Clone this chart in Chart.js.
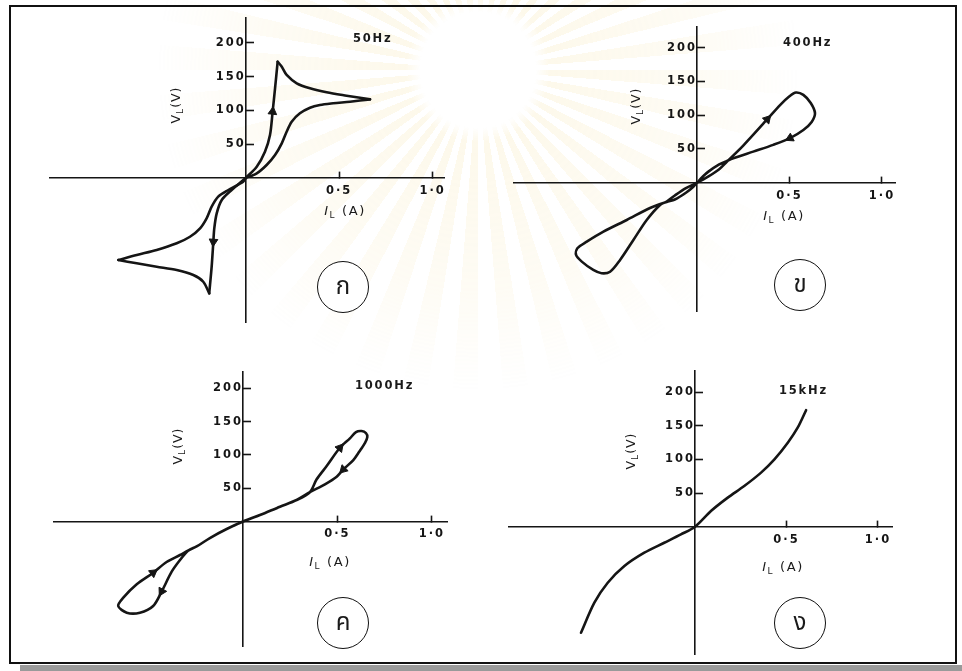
<!DOCTYPE html>
<html><head><meta charset="utf-8">
<script src="https://cdn.jsdelivr.net/npm/chart.js@4.4.1/dist/chart.umd.min.js"></script>
<style>
html,body{margin:0;padding:0;background:#fff;}
#page{position:relative;width:962px;height:671px;overflow:hidden;background:#fff;font-family:"DejaVu Sans",sans-serif;color:#1a1a1a;}
.wm{position:absolute;left:0;top:0;width:962px;height:671px;
  background:repeating-conic-gradient(from 0deg at 478px 70px, rgba(245,222,150,0.5) 0deg 4.5deg, rgba(255,255,255,0) 4.5deg 9deg);
  -webkit-mask-image:radial-gradient(circle at 478px 70px, transparent 0 58px, rgba(0,0,0,0.38) 72px, rgba(0,0,0,0.2) 220px, transparent 320px);
  mask-image:radial-gradient(circle at 478px 70px, transparent 0 58px, rgba(0,0,0,0.38) 72px, rgba(0,0,0,0.2) 220px, transparent 320px);}
canvas{position:absolute;}
.frame{position:absolute;left:9px;top:5px;width:944px;height:655px;border:2px solid #111;}
.shadow{position:absolute;left:20px;top:665px;width:942px;height:6px;background:#9a9a9a;}
.freq{position:absolute;font-weight:bold;font-size:11.5px;letter-spacing:1.8px;white-space:nowrap;}
.ylab{position:absolute;font-size:12.5px;letter-spacing:1px;white-space:nowrap;transform:translate(-50%,-50%) rotate(-90deg);}
.xlab{position:absolute;font-size:13px;letter-spacing:1.6px;white-space:nowrap;transform:translate(-50%,-50%);}
.ylab sub,.xlab sub{font-size:9px;vertical-align:-3px;}
.circ{position:absolute;width:50px;height:50px;border:1.6px solid #111;border-radius:50%;transform:translate(-50%,-50%);display:flex;align-items:center;justify-content:center;font-size:24px;font-family:"Noto Sans Thai","Loma","Garuda","Norasi","Tlwg Typo","Noto Sans",sans-serif;background:#fff;}
</style></head>
<body>
<div id="page">
  <div class="wm"></div>
  <div class="frame"></div>
  <div class="shadow"></div>
  <canvas id="c1"></canvas>
  <canvas id="c2"></canvas>
  <canvas id="c3"></canvas>
  <canvas id="c4"></canvas>
  <div class="freq" style="left:353px;top:31px">50Hz</div>
  <div class="freq" style="left:783px;top:35px">400Hz</div>
  <div class="freq" style="left:355px;top:378px">1000Hz</div>
  <div class="freq" style="left:779px;top:383px">15kHz</div>
  <div class="ylab" style="left:176px;top:105px"><span>V<sub>L</sub>(V)</span></div>
  <div class="ylab" style="left:636px;top:106px"><span>V<sub>L</sub>(V)</span></div>
  <div class="ylab" style="left:178px;top:446px"><span>V<sub>L</sub>(V)</span></div>
  <div class="ylab" style="left:631px;top:451px"><span>V<sub>L</sub>(V)</span></div>
  <div class="xlab" style="left:345px;top:211px"><i>I</i><sub>L</sub> (A)</div>
  <div class="xlab" style="left:784px;top:216px"><i>I</i><sub>L</sub> (A)</div>
  <div class="xlab" style="left:330px;top:562px"><i>I</i><sub>L</sub> (A)</div>
  <div class="xlab" style="left:783px;top:567px"><i>I</i><sub>L</sub> (A)</div>
  <div class="circ" style="left:343px;top:287px">ก</div>
  <div class="circ" style="left:800px;top:285px">ข</div>
  <div class="circ" style="left:343px;top:623px">ค</div>
  <div class="circ" style="left:800px;top:623px">ง</div>
</div>
<script>
// ---------- tick values / labels ----------
const xTickValues = [0.5, 1.0];
const xTickLabels = ['0·5', '1·0'];
const yTickValues = [50, 100, 150, 200];

// ---------- 50 Hz  (I_L in A, V_L in V) ----------
const hz50Rise   = [[0,0],[0.059,16.7],[0.103,38.9],[0.130,63.6],[0.144,98],[0.157,132.6],[0.171,171.9]];
const hz50Top    = [[0.171,171.9],[0.193,164.5],[0.219,152.3],[0.273,140],[0.344,132.6],[0.433,126.7],[0.540,121.7],[0.665,116.3]];
const hz50Back   = [[0.665,116.3],[0.558,112.8],[0.468,110.4],[0.397,107.9],[0.344,103.9],[0.290,95.6],[0.246,83.2],[0.219,68.4],[0.193,51.3],[0.157,34],[0.112,19.2],[0.059,6.9],[0,0]];
const hz50Fall   = [[0,0],[-0.075,-17.7],[-0.128,-32.5],[-0.155,-52.2],[-0.168,-74.4],[-0.173,-94.2],[-0.182,-131.1],[-0.195,-170.4]];
const hz50Bottom = [[-0.195,-170.4],[-0.227,-153.3],[-0.280,-143.4],[-0.369,-136],[-0.476,-131.1],[-0.583,-126.1],[-0.681,-121.2]];
const hz50Return = [[-0.681,-121.2],[-0.583,-113.8],[-0.476,-106.4],[-0.369,-96.5],[-0.298,-86.8],[-0.244,-74.4],[-0.209,-59.6],[-0.182,-42.4],[-0.147,-27.6],[-0.093,-17.7],[-0.013,-5.5],[0,0]];
const hz50Arrows = [[0.144,98],[-0.173,-94.2]];

// ---------- 400 Hz ----------
const hz400Loop = [[0,0],[0.06,9],[0.12,20],[0.161,31],[0.25,55],[0.38,94],[0.449,115],[0.50,128],[0.535,133.5],[0.575,130],[0.615,118],[0.638,103],[0.62,90],[0.575,78],[0.503,66],[0.412,56],[0.304,46],[0.196,36],[0.161,32],[0.12,27],[0.06,16],[0.02,6],[0,0],
  [-0.06,-8],[-0.12,-19],[-0.164,-28],[-0.2,-33],[-0.272,-55.3],[-0.344,-84.9],[-0.416,-114.5],[-0.47,-131.9],[-0.516,-134.2],[-0.561,-129.3],[-0.623,-117],[-0.654,-107.1],[-0.647,-97.2],[-0.596,-87.4],[-0.506,-72.6],[-0.38,-55.3],[-0.254,-37.5],[-0.164,-28.5],[-0.12,-25],[-0.06,-15],[-0.02,-6],[0,0]];
const hz400Arrows = [[0.38,94],[0.503,66]];

// ---------- 1000 Hz ----------
const hz1000Loop = [[0,0],[0.09,9.7],[0.196,22.2],[0.284,32.2],[0.354,43.9],[0.39,63.3],[0.443,83.2],[0.513,110.6],[0.566,124.7],[0.598,134.2],[0.628,135.7],[0.651,132.7],[0.658,126.7],[0.646,118.1],[0.615,104.6],[0.584,92.2],[0.531,78],[0.496,67.2],[0.434,55.8],[0.354,43.9],[0.284,32.2],[0.196,22.2],[0.09,9.7],[0,0],
  [-0.086,-11.3],[-0.175,-24.8],[-0.245,-37.5],[-0.289,-43.5],[-0.333,-57.8],[-0.377,-75.3],[-0.43,-105],[-0.475,-126.8],[-0.545,-136.8],[-0.615,-136.8],[-0.66,-126.8],[-0.633,-114.3],[-0.562,-94.2],[-0.475,-76.8],[-0.404,-60.8],[-0.333,-50.3],[-0.289,-43.5],[-0.245,-37.5],[-0.175,-24.8],[-0.086,-11.3],[0,0]];
const hz1000Arrows = [[0.513,110.6],[0.531,78],[-0.475,-76.8],[-0.43,-105]];

// ---------- 15 kHz ----------
const khz15Curve = [[-0.623,-157.4],[-0.55,-112.8],[-0.477,-83.2],[-0.386,-58.4],[-0.277,-38.6],[-0.168,-23.8],[-0.077,-11.4],[0,0],[0.087,23.3],[0.179,43.2],[0.269,60.4],[0.361,80.3],[0.434,100],[0.507,124.7],[0.561,147],[0.607,173]];

// ---------- drawing ----------
const INK = '#151515';
const pts = a => a.map(p => ({x: p[0], y: p[1]}));

const spacing = {
  id: 'spacing',
  beforeDraw(chart) { chart.ctx.letterSpacing = '2px'; }
};
const noPad = s => { s.paddingTop = 0; s.paddingBottom = 0; s.paddingLeft = 0; s.paddingRight = 0; };

function arrowRotation(paths) {
  return ctx => {
    const ch = ctx.chart, sx = ch.scales && ch.scales.x, sy = ch.scales && ch.scales.y;
    const r = ctx.raw;
    if (!r || !sx || !sy) return 0;
    const ax = sx.getPixelForValue(r.x), ay = sy.getPixelForValue(r.y);
    if (!isFinite(ax) || !isFinite(ay)) return 0;
    let best = null, bd = Infinity;
    paths.forEach(p => p.forEach((q, i) => {
      const d = Math.hypot(sx.getPixelForValue(q[0]) - ax, sy.getPixelForValue(q[1]) - ay);
      if (d < bd) { bd = d; best = {p, i}; }
    }));
    if (!best) return 0;
    const p = best.p, i = best.i;
    const a = p[Math.max(i - 1, 0)], b = p[Math.min(i + 1, p.length - 1)];
    const dx = sx.getPixelForValue(b[0]) - sx.getPixelForValue(a[0]);
    const dy = sy.getPixelForValue(b[1]) - sy.getPixelForValue(a[1]);
    const rot = Math.atan2(dx, -dy) * 180 / Math.PI;
    return isFinite(rot) ? rot : 0;
  };
}

function panel(id, box, range, paths, arrows, tension) {
  const cv = document.getElementById(id);
  cv.width = box.w; cv.height = box.h;
  cv.style.left = box.l + 'px'; cv.style.top = box.t + 'px';
  const datasets = paths.map(p => ({
    data: pts(p), showLine: true, borderColor: INK, borderWidth: 2.6,
    pointRadius: 0, tension: tension, fill: false, borderCapStyle: 'round', borderJoinStyle: 'round'
  }));
  if (arrows) datasets.push({
    data: pts(arrows), showLine: false, pointStyle: 'triangle', pointRadius: 5,
    pointBackgroundColor: INK, pointBorderColor: INK, pointBorderWidth: 1,
    pointRotation: arrowRotation(paths)
  });
  const tickFont = {family: 'DejaVu Sans', size: 11.5, weight: 'bold'};
  try {
    new Chart(cv, {
      type: 'scatter',
      data: {datasets},
      plugins: [spacing],
      options: {
        responsive: false, animation: false, devicePixelRatio: 1,
        layout: {padding: 0, autoPadding: false},
        plugins: {legend: {display: false}, tooltip: {enabled: false}},
        scales: {
          x: {
            type: 'linear', min: range.x0, max: range.x1, position: {y: 0}, afterFit: noPad,
            afterBuildTicks: s => { s.ticks = xTickValues.map(v => ({value: v})); },
            ticks: {callback: (v, i) => xTickLabels[i], font: tickFont, color: INK, padding: 13, maxRotation: 0, autoSkip: false},
            grid: {drawOnChartArea: false, drawTicks: true, tickLength: -7, tickWidth: 1.6, tickColor: INK},
            border: {display: true, color: INK, width: 1.6}
          },
          y: {
            type: 'linear', min: range.y0, max: range.y1, position: {x: 0}, afterFit: noPad,
            afterBuildTicks: s => { s.ticks = yTickValues.map(v => ({value: v})); },
            ticks: {font: tickFont, color: INK, padding: 15, autoSkip: false},
            grid: {drawOnChartArea: false, drawTicks: true, tickLength: -9, tickWidth: 1.6, tickColor: INK},
            border: {display: true, color: INK, width: 1.6}
          }
        }
      }
    });
  } catch (e) { console.error(e); }
}

panel('c1', {l: 49, t: 17, w: 396, h: 306}, {x0: -1.052, x1: 1.066, y0: -214.3, y1: 238},
  [hz50Rise, hz50Top, hz50Back, hz50Fall, hz50Bottom, hz50Return], hz50Arrows, 0.3);
panel('c2', {l: 513, t: 26, w: 383, h: 286}, {x0: -0.995, x1: 1.076, y0: -191.6, y1: 232.1},
  [hz400Loop], hz400Arrows, 0.3);
panel('c3', {l: 53, t: 371, w: 395, h: 276}, {x0: -1.005, x1: 1.085, y0: -188.3, y1: 225.8},
  [hz1000Loop], hz1000Arrows, 0.3);
panel('c4', {l: 508, t: 370, w: 385, h: 285}, {x0: -1.022, x1: 1.082, y0: -190.5, y1: 232.7},
  [khz15Curve], null, 0.3);
</script>
</body></html>
